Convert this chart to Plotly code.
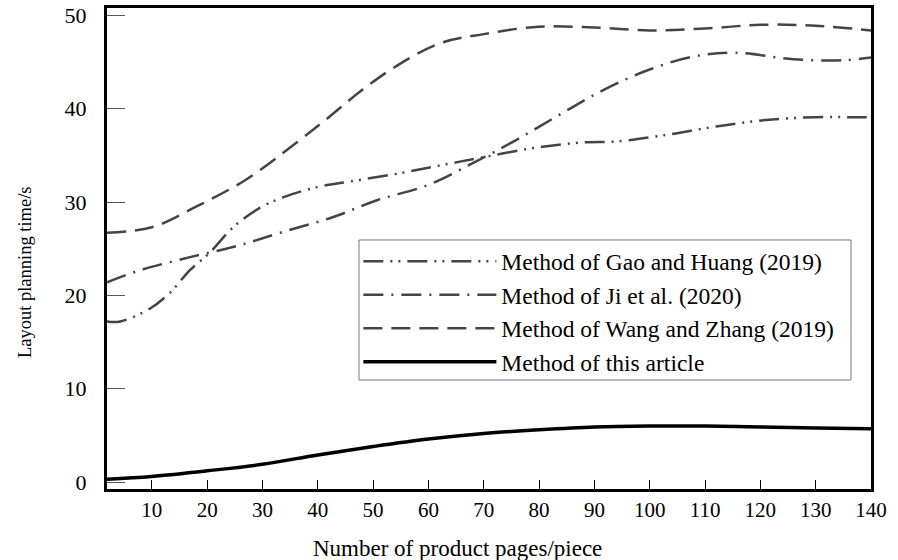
import plotly.graph_objects as go

# Data
gao_x = [1.9, 4.3, 9.7, 13.3, 16.9, 20.5, 24.7, 29.6, 33.7, 39.9, 45.8, 54.9, 62.7, 69.9, 79, 88, 94, 103, 112, 121, 130, 136, 140]
gao_y = [17.2, 17.2, 18.6, 20.3, 22.7, 24.6, 27.3, 29.4, 30.5, 31.6, 32.2, 33.1, 34.0, 34.8, 35.8, 36.4, 36.5, 37.2, 38.1, 38.8, 39.1, 39.1, 39.1]

ji_x = [1.9, 7.9, 16.9, 25.4, 33.7, 42.8, 50.7, 59.8, 68.1, 76, 83.8, 91.6, 99.5, 107.9, 115.5, 126, 135, 140]
ji_y = [21.4, 22.7, 24.1, 25.3, 26.8, 28.4, 30.2, 31.8, 34.2, 36.7, 39.4, 42.0, 44.1, 45.6, 46.0, 45.3, 45.2, 45.5]

wang_x = [1.9, 10, 18, 27, 36, 42, 48, 54, 62, 70, 80, 90, 100, 110, 120, 130, 140]
wang_y = [26.7, 27.3, 29.5, 32.4, 36.3, 39.1, 42.0, 44.5, 47.0, 48.0, 48.8, 48.7, 48.4, 48.6, 49.0, 48.9, 48.4]

ours_x = [1.9, 10, 20, 30, 40, 50, 60, 70, 80, 90, 100, 110, 120, 130, 140]
ours_y = [0.3, 0.6, 1.2, 1.9, 2.9, 3.8, 4.6, 5.2, 5.6, 5.9, 6.0, 6.0, 5.9, 5.8, 5.7]

x_ticks = [10, 20, 30, 40, 50, 60, 70, 80, 90, 100, 110, 120, 130, 140]
y_ticks = [0, 10, 20, 30, 40, 50]

names = ["Method of Gao and Huang (2019)", "Method of Ji et al. (2020)",
         "Method of Wang and Zhang (2019)", "Method of this article"]
x_title = "Number of product pages/piece"
y_title = "Layout planning time/s"

FONT = "Liberation Serif"
GRAY = "#444444"

fig = go.Figure()
fig.add_trace(go.Scatter(x=gao_x, y=gao_y, mode="lines", name=names[0],
                         line=dict(color=GRAY, width=2.5, shape="spline",
                                   dash="20px,7px,2px,6px,2px,7px")))
fig.add_trace(go.Scatter(x=ji_x, y=ji_y, mode="lines", name=names[1],
                         line=dict(color=GRAY, width=2.5, shape="spline",
                                   dash="20px,8px,2px,8px")))
fig.add_trace(go.Scatter(x=wang_x, y=wang_y, mode="lines", name=names[2],
                         line=dict(color=GRAY, width=2.5, shape="spline",
                                   dash="19px,9px")))
fig.add_trace(go.Scatter(x=ours_x, y=ours_y, mode="lines", name=names[3],
                         line=dict(color="black", width=3.5, shape="spline")))

fig.update_layout(
    width=898, height=560,
    margin=dict(l=107, r=27, t=8, b=71),
    paper_bgcolor="white", plot_bgcolor="white",
    font=dict(family=FONT, color="black", size=18),
    legend=dict(x=0.329, y=0.519, xanchor="left", yanchor="top",
                borderwidth=0, bgcolor="rgba(0,0,0,0)",
                font=dict(family=FONT, size=23.5, color="black"),
                itemwidth=133, tracegroupgap=0),
    showlegend=True,
    shapes=[dict(type="rect", xref="paper", yref="paper",
                 x0=0.3298, x1=0.9738, y0=0.2266, y1=0.5177,
                 line=dict(color="#777777", width=1), fillcolor="white",
                 layer="below")],
    annotations=[
        dict(text=x_title, xref="paper", yref="paper", x=0.459, y=-0.1227,
             xanchor="center", yanchor="middle", showarrow=False,
             font=dict(family=FONT, size=23, color="black")),
        dict(text=y_title, xref="paper", yref="paper", x=-0.1073, y=0.451,
             xanchor="center", yanchor="middle", showarrow=False, textangle=-90,
             font=dict(family=FONT, size=18.5, color="black")),
    ],
)
fig.update_xaxes(range=[1.9, 140], tickvals=x_ticks, ticks="inside", ticklen=9,
                 tickcolor="black", tickwidth=1, showgrid=False, zeroline=False,
                 showline=True, linecolor="black", linewidth=3, mirror=True,
                 automargin=False,
                 tickfont=dict(family=FONT, size=21))
fig.update_yaxes(range=[-0.75, 50.8], tickvals=y_ticks, ticks="inside", ticklen=18,
                 tickcolor="#555555", tickwidth=1, showgrid=False, zeroline=False,
                 showline=True, linecolor="black", linewidth=3, mirror=True,
                 automargin=False, ticklabelstandoff=13,
                 tickfont=dict(family=FONT, size=22))

fig.write_html("out.html", config={"displayModeBar": False},
               post_script="document.body.style.margin='0px';")
